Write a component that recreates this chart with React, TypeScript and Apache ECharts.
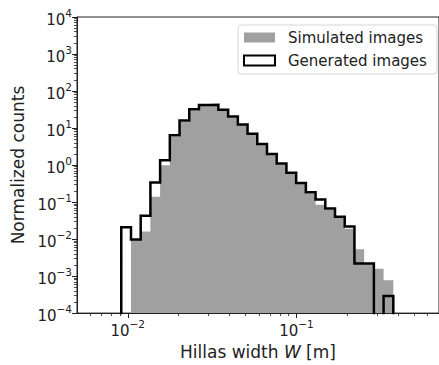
import React, { useEffect, useRef } from 'react';
import * as echarts from 'echarts';

// Log-spaced bin edges of the histograms (Hillas width W in m)
const binEdges = [
  0.00915, 0.010447, 0.011928, 0.013619, 0.015549, 0.017753, 0.02027, 0.023143,
  0.026424, 0.03017, 0.034446, 0.039355, 0.044933, 0.051299, 0.058575, 0.06688,
  0.076384, 0.087215, 0.099586, 0.11371, 0.12982, 0.14825, 0.16926, 0.19325,
  0.22069, 0.25197, 0.28774, 0.32853, 0.37514,
];

// Normalized counts per bin
const simulatedCounts = [
  0, 0.0095, 0.016, 0.14, 0.99, 5.8, 14.5, 30, 40, 40, 30, 19.5, 12, 6.8, 3.6, 1.9,
  1.05, 0.58, 0.31, 0.17, 0.085, 0.062, 0.037, 0.019, 0.0053, 0.0021, 0.00157, 0.00077,
];
const generatedCounts = [
  0.021, 0.0097, 0.043, 0.34, 1.34, 6.4, 15.9, 32, 42, 42.5, 31, 20.6, 12.5, 7.0, 3.7,
  2.0, 1.1, 0.62, 0.325, 0.183, 0.118, 0.067, 0.04, 0.0218, 0.0022, 0.0022, 0, 0.00029,
];

const seriesNames = ['Simulated images', 'Generated images'];
const xLimits = [0.005, 0.7];
const xMajorExponents = [-2, -1];
const yMajorExponents = [-4, -3, -2, -1, 0, 1, 2, 3, 4];

const FONT = 'DejaVu Sans';
const INK = '#222222';
const GRAY = '#a0a0a0';
const FLOOR = -6;

function stepData(counts: number[]) {
  const lg = (v: number) => (v > 0 ? Math.log10(v) : FLOOR);
  const pts: number[][] = [[Math.log10(binEdges[0]), FLOOR]];
  counts.forEach((c, i) => pts.push([Math.log10(binEdges[i]), lg(c)]));
  const last = counts.length;
  pts.push([Math.log10(binEdges[last]), lg(counts[last - 1])]);
  pts.push([Math.log10(binEdges[last]), FLOOR]);
  return pts;
}

function minorTicks(lo: number, hi: number, decades: number[]) {
  const out: number[] = [];
  decades.forEach((d) => {
    for (let k = 2; k <= 9; k++) {
      const v = Math.log10(k) + d;
      if (v > lo + 1e-6 && v < hi - 1e-6) out.push(v);
    }
  });
  return out;
}

const fmtPow = (v: number) => {
  const e = Math.round(v);
  const s = e < 0 ? '\u2212' + String(-e) : String(e);
  return '{b|10}{s|' + s + '}';
};

const labelRich = {
  b: { fontFamily: FONT, fontSize: 15, color: INK, lineHeight: 20, verticalAlign: 'bottom' },
  s: { fontFamily: FONT, fontSize: 10.5, color: INK, lineHeight: 12, verticalAlign: 'top' },
};

export default function App() {
  const ref = useRef<HTMLDivElement>(null);
  useEffect(() => {
    if (!ref.current) return;
    const chart = echarts.init(ref.current, null, { renderer: 'svg' });
    const xMin = Math.log10(xLimits[0]);
    const xMax = Math.log10(xLimits[1]);
    const xMinor = minorTicks(xMin, xMax, [-3, -2, -1]);
    const yMinor = minorTicks(-4, 4, [-4, -3, -2, -1, 0, 1, 2, 3]);

    chart.setOption({
      animation: false,
      backgroundColor: '#ffffff',
      grid: {
        left: 77, top: 17, width: 367, height: 303,
        show: true, borderColor: INK, borderWidth: 1, backgroundColor: 'transparent',
      },
      legend: {
        left: 238, top: 25, orient: 'vertical',
        backgroundColor: 'rgba(255,255,255,0.85)', borderColor: '#d6d6d6', borderWidth: 1, borderRadius: 3,
        padding: [5, 10, 6, 5],
        itemWidth: 31, itemHeight: 10, itemGap: 8,
        selectedMode: false,
        textStyle: { fontFamily: FONT, fontSize: 15, color: INK, padding: [0, 0, 0, 8] },
        data: [
          { name: seriesNames[0], icon: 'rect', itemStyle: { color: GRAY, borderWidth: 0 } },
          { name: seriesNames[1], icon: 'rect', itemStyle: { color: '#ffffff', borderColor: '#000000', borderWidth: 2 } },
        ],
      },
      xAxis: [
        {
          type: 'value', min: xMin, max: xMax, position: 'bottom',
          axisLine: { show: true, onZero: false, lineStyle: { color: INK, width: 1 } },
          axisTick: { show: true, customValues: xMajorExponents, length: 5, lineStyle: { color: INK, width: 1 } },
          axisLabel: { customValues: xMajorExponents, formatter: fmtPow, margin: 5, rich: labelRich },
          splitLine: { show: false },
          name: 'Hillas width {i|W} [m]',
          nameLocation: 'middle', nameGap: 25,
          nameTextStyle: {
            fontFamily: FONT, fontSize: 17, color: INK,
            rich: { i: { fontFamily: FONT, fontSize: 17, color: INK, fontStyle: 'italic' } },
          },
        },
        {
          type: 'value', min: xMin, max: xMax, position: 'bottom',
          axisLine: { show: false, onZero: false },
          axisTick: { show: true, customValues: xMinor, length: 3, lineStyle: { color: INK, width: 0.8 } },
          axisLabel: { show: false },
          splitLine: { show: false },
        },
      ],
      yAxis: [
        {
          type: 'value', min: -4, max: 4, position: 'left',
          axisLine: { show: true, onZero: false, lineStyle: { color: INK, width: 1 } },
          axisTick: { show: true, customValues: yMajorExponents, length: 5, lineStyle: { color: INK, width: 1 } },
          axisLabel: { customValues: yMajorExponents, formatter: fmtPow, margin: 5, rich: labelRich },
          splitLine: { show: false },
          name: 'Normalized counts',
          nameLocation: 'middle', nameGap: 49,
          nameTextStyle: { fontFamily: FONT, fontSize: 17, color: INK },
        },
        {
          type: 'value', min: -4, max: 4, position: 'left',
          axisLine: { show: false, onZero: false },
          axisTick: { show: true, customValues: yMinor, length: 3, lineStyle: { color: INK, width: 0.8 } },
          axisLabel: { show: false },
          splitLine: { show: false },
        },
      ],
      series: [
        {
          name: seriesNames[0], type: 'line', step: 'end',
          data: stepData(simulatedCounts),
          xAxisIndex: 0, yAxisIndex: 0,
          symbol: 'none', showSymbol: false, clip: true,
          itemStyle: { color: GRAY },
          lineStyle: { width: 0, color: GRAY },
          areaStyle: { color: GRAY, opacity: 1, origin: 'start' },
          z: 2,
        },
        {
          name: seriesNames[1], type: 'line', step: 'end',
          data: stepData(generatedCounts),
          xAxisIndex: 0, yAxisIndex: 0,
          symbol: 'none', showSymbol: false, clip: true,
          itemStyle: { color: '#000000' },
          lineStyle: { width: 2.5, color: '#000000', join: 'miter' },
          z: 3,
        },
      ],
    });
    return () => chart.dispose();
  }, []);

  return (
    <div
      ref={ref}
      style={{ position: 'fixed', left: 0, top: 0, width: 439, height: 365, background: '#fff' }}
    />
  );
}
